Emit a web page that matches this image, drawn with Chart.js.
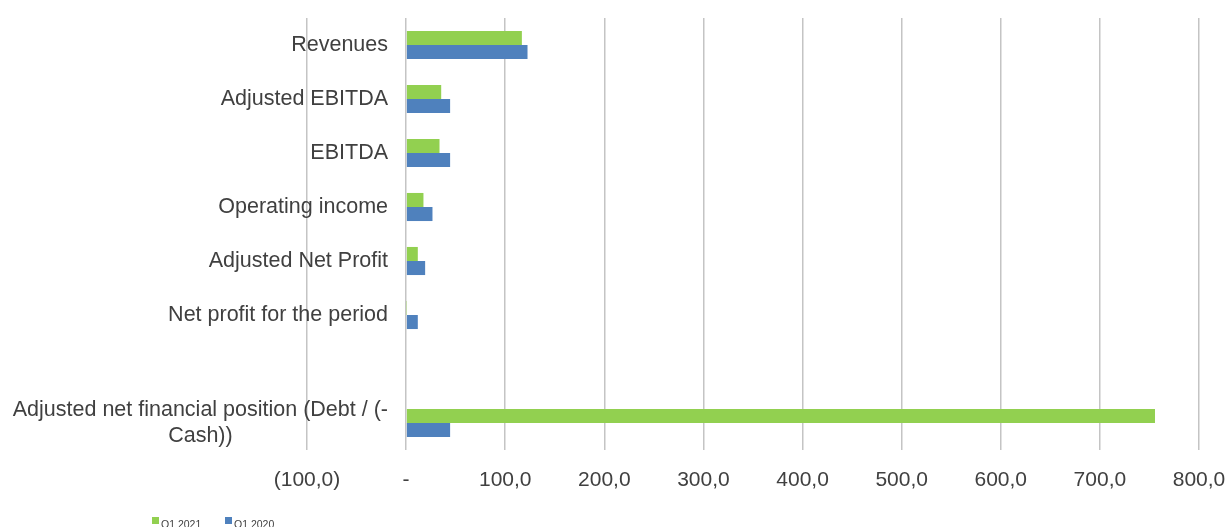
<!DOCTYPE html>
<html>
<head>
<meta charset="utf-8">
<script src="https://cdn.jsdelivr.net/npm/chart.js@4.4.1/dist/chart.umd.min.js"></script>
<style>
  body { margin: 0; background: #fff; }
  #wrap { position: relative; width: 1228px; height: 527px; overflow: hidden; }
  .leg { position: absolute; top: 517px; font: 10.5px 'Liberation Sans', Arial, sans-serif; color: #404040; white-space: nowrap; line-height: 12px; }
  .leg i { display: inline-block; width: 7px; height: 7px; margin-right: 2px; vertical-align: 4px; }
</style>
</head>
<body>
<div id="wrap">
  <canvas id="chart" width="1228" height="527"></canvas>
  <div class="leg" style="left:152px"><i style="background:#92D050"></i>Q1 2021</div>
  <div class="leg" style="left:225px"><i style="background:#4F81BD"></i>Q1 2020</div>
</div>
<script>
// Categories (empty one keeps the gap before the last row)
const categories = [
  'Revenues',
  'Adjusted EBITDA',
  'EBITDA',
  'Operating income',
  'Adjusted Net Profit',
  'Net profit for the period',
  '',
  ['Adjusted net financial position (Debt / (-', 'Cash))']
];

const q1_2021 = [116.8, 35.4, 33.7, 17.5, 11.8, 0.4, null, 755.6];
const q1_2020 = [122.5, 44.4, 44.4, 26.6, 19.2, 11.8, null, 44.4];

const axisMin = -100;
const axisMax = 800;
const axisStep = 100;

const FONT = "'Liberation Sans', Arial, sans-serif";
const TEXT = '#404040';
const Y_SIZE = 21.5;

// pad shorter lines of a multi-line label so they sit centred under the longest
const measureCtx = document.createElement('canvas').getContext('2d');
measureCtx.font = Y_SIZE + 'px ' + FONT;
function centreLines(lines) {
  const widths = lines.map(l => measureCtx.measureText(l).width);
  const maxW = Math.max(...widths);
  const sp = measureCtx.measureText(' ').width;
  return lines.map((l, i) => l + ' '.repeat(Math.round((maxW - widths[i]) / 2 / sp)));
}
const yLabels = categories.map(c => Array.isArray(c) ? centreLines(c) : c);
const widest = Math.max(...yLabels.flat().map(l => measureCtx.measureText(l).width));

function fmt(v) {
  if (v === 0) return '-';
  const s = Math.abs(v).toFixed(1).replace('.', ',');
  return v < 0 ? '(' + s + ')' : s;
}

new Chart(document.getElementById('chart'), {
  type: 'bar',
  data: {
    labels: yLabels,
    datasets: [
      { label: 'Q1 2021', data: q1_2021, backgroundColor: '#92D050' },
      { label: 'Q1 2020', data: q1_2020, backgroundColor: '#4F81BD' }
    ]
  },
  options: {
    indexAxis: 'y',
    responsive: false,
    animation: false,
    categoryPercentage: 0.52,
    barPercentage: 1,
    layout: { padding: { top: 18, right: 29, left: 0, bottom: 0 } },
    plugins: {
      legend: { display: false },
      tooltip: { enabled: false }
    },
    scales: {
      x: {
        min: axisMin,
        max: axisMax,
        ticks: {
          stepSize: axisStep,
          padding: 2,
          color: TEXT,
          font: { family: FONT, size: 21 },
          callback: v => fmt(v)
        },
        grid: { color: '#c4c4c4', lineWidth: 1.5, drawTicks: true, tickLength: 16, tickColor: 'rgba(0,0,0,0)' },
        border: { display: false },
        afterFit: s => { s.height = 77; }
      },
      y: {
        ticks: {
          mirror: true,
          crossAlign: 'far',
          padding: 81 - widest,
          color: TEXT,
          font: { family: FONT, size: Y_SIZE, lineHeight: 1.2 },
          autoSkip: false
        },
        grid: { display: false },
        border: { display: false },
        afterFit: s => { s.width = 307; }
      }
    }
  }
});
</script>
</body>
</html>
